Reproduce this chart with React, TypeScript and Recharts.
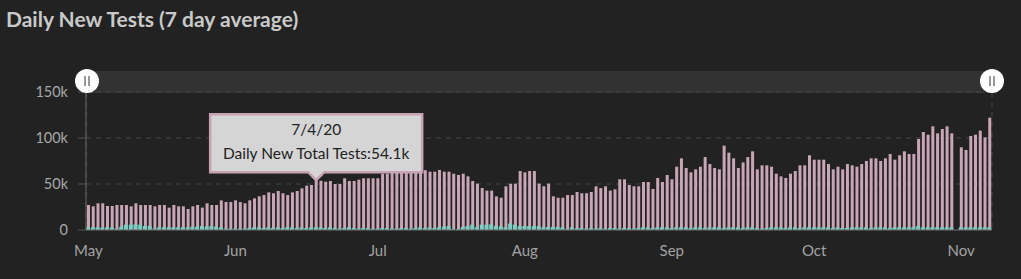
import React from "react";
import { BarChart, Bar, XAxis, YAxis, CartesianGrid } from "recharts";

// daily values in thousands, first day is 5/17/20
const firstDay = Date.UTC(2020, 4, 17);

const totalTestsK = [
  27.2, 25.7, 29, 29, 26.1, 26.1, 27.2, 27.2, 27.2, 25.7, 29, 27.2, 27.2, 27.2, 25.7, 27.2, 27.2, 24.3, 27.2, 25.7,
  25.7, 22.8, 25.7, 27.2, 24.3, 29, 27.2, 27.2, 32.2, 30.4, 30.4, 32.2, 30.4, 29, 32.2, 34.4, 36.6, 38, 40.9,
  39.9, 42.4, 39.9, 38.0, 40.9, 42.4, 45.3, 48.2, 48.9, 54.1, 53.5, 52.5, 53.3, 50, 50, 56.2, 53.3, 53.3, 54.7, 56.2,
  56.2, 56.2, 56.2, 61.2, 61.2, 63, 64, 65, 66, 66, 66, 65, 65, 63.4, 63.4, 65.2, 63.4, 63.4,
  61.2, 59.8, 61.2, 58.3, 53.3, 50.4, 45.6, 42.8, 42.8, 36.6, 35.1, 47.5, 50.4, 50.4, 64.1, 62.7, 64.1, 64.1, 50.4, 47.5,
  50.4, 36.6, 35.1, 35.1, 38, 38, 41.3, 39.9, 39.9, 41.3, 47.5, 45.6, 47.5, 42.8, 44.2, 55.1, 55.1, 48.9, 47.5, 47.5,
  52.2, 52.2, 44.6, 56.5, 52.2, 59.8, 55.1, 68.8, 77.9, 67.4, 62.7, 65.9, 68.8, 79.3, 71.7, 67.4, 65.9, 91.7, 84.1, 77.9,
  67.4, 73.5, 79.3, 85.5, 65.9, 70.3, 70.3, 68.8, 61.2, 58.3, 56.5, 61.2, 64.1, 70.3, 70.3, 81.2, 76.4, 76.4, 76.4,
  71.7, 65.9, 68.8, 65.9, 71.7, 70.3, 68.8, 71.7, 75, 77.9, 77.9, 75, 77.9, 82.6, 76.4, 81.2, 85.5, 82.6, 82.6, 98.9,
  106.5, 103.6, 112.7, 105.1, 109.8, 112.7, 105.1, null, 89.9, 87, 102.2, 103.6, 108, 100.7, 122.1,
];

const positiveTestsK = [
  2.9, 2.9, 2.9, 2.5, 2.9, 2.9, 1.5, 3.6, 5.8, 5.8, 6.2, 5.8, 4.3, 4.6, 1.5, 2.9, 2.9, 2.9, 2.9, 2.9,
  2.9, 2.9, 3.6, 3.6, 4.3, 3.6, 4.3, 3.6, 2.9, 1.5, 1.5, 1.5, 1.5, 1.5, 2.2, 2.9, 2.9, 2.2, 2.9,
  2.2, 2.9, 2.2, 2.9, 2.9, 2.2, 2.9, 2.2, 2.9, 2.9, 2.9, 2.2, 2.9, 2.2, 1.5, 2.2, 2.9, 2.2, 1.5, 2.2,
  2.2, 1.5, 1.5, 2.2, 2.2, 1.5, 1.5, 2.2, 2.2, 1.5, 2.2, 2.9, 2.2, 2.9, 2.2, 2.9, 3.6, 4.3,
  1.1, 1.1, 3.3, 4.3, 5.8, 2.9, 5.8, 5.8, 6.2, 4.3, 4.0, 2.9, 7.2, 5.8, 4.3, 4.3, 4.3, 4.3, 4.3, 2.9,
  3.3, 3.3, 3.3, 2.9, 1.1, 2.9, 1.8, 2.2, 1.5, 2.2, 1.5, 2.2, 1.5, 2.2, 2.2, 1.5, 2.2, 2.2, 1.5, 2.2,
  2.9, 2.9, 2.2, 2.9, 2.9, 2.9, 2.2, 2.9, 2.9, 2.9, 2.2, 2.9, 2.9, 2.2, 2.9, 2.9, 2.9, 2.2, 2.9, 2.9,
  2.9, 2.2, 2.9, 2.9, 2.2, 1.5, 2.2, 2.9, 2.9, 2.9, 2.2, 2.9, 2.9, 2.2, 2.9, 2.9, 2.9, 2.9, 2.9,
  2.9, 2.2, 2.9, 2.2, 2.2, 2.9, 2.9, 2.9, 2.9, 2.2, 2.9, 2.9, 2.9, 2.2, 2.9, 2.9, 2.9, 2.9, 2.9, 4.3,
  2.9, 2.9, 2.9, 2.9, 2.9, 2.9, 2.9, null, 2.9, 2.9, 2.9, 2.9, 2.9, 2.9, 2.9,
];

// grid lines sit on month starts, month names sit mid-month
const monthStartTicks = ["6/1/20", "7/1/20", "8/1/20", "9/1/20", "10/1/20", "11/1/20"];
const monthLabelTicks = ["5/17/20", "6/17/20", "7/17/20", "8/17/20", "9/17/20", "10/17/20", "11/17/20"];
const monthNames = ["May", "Jun", "Jul", "Aug", "Sep", "Oct", "Nov"];
const yTicks = [0, 50, 100, 150];

const tooltipDate = "7/4/20";
const tooltipSeries = "Daily New Total Tests";

const fmtDate = (t: number) => {
  const d = new Date(t);
  return `${d.getUTCMonth() + 1}/${d.getUTCDate()}/20`;
};

const rows = totalTestsK.map((total, i) => ({
  date: fmtDate(firstDay + i * 86400000),
  total,
  positive: positiveTestsK[i],
}));

const PINK = "#c9a6b5";
const TEAL = "#7ecdc3";

const renderTip = (props: any) => {
  const { x, y, width, index } = props;
  if (rows[index]?.date !== tooltipDate) return null;
  const cx = x + width / 2;
  const apex = y;
  const b = apex - 8;
  const t = b - 58;
  const l = cx - 106;
  const r = cx + 106;
  const d = `M${l},${t} H${r} V${b} H${cx + 8} L${cx},${apex} L${cx - 8},${b} H${l} Z`;
  return (
    <g>
      <path d={d} fill="#d5d5d5" stroke="#c9a3b3" strokeWidth={2.5} />
      <text x={cx} y={t + 21} textAnchor="middle" fontSize={15.5} fill="#222" fontFamily="Lato">
        {tooltipDate}
      </text>
      <text x={cx} y={t + 45} textAnchor="middle" fontSize={15.5} fill="#222" fontFamily="Lato">
        {`${tooltipSeries}:${rows[index].total}k`}
      </text>
    </g>
  );
};

const Handle = ({ left }: { left: number }) => (
  <div
    style={{
      position: "absolute",
      left: left - 12,
      top: 69,
      width: 24,
      height: 24,
      borderRadius: 12,
      background: "#fff",
    }}
  >
    <div style={{ position: "absolute", left: 9, top: 7, width: 1.5, height: 10, background: "#999" }} />
    <div style={{ position: "absolute", left: 13, top: 7, width: 1.5, height: 10, background: "#999" }} />
  </div>
);

export default function App() {
  return (
    <div style={{ position: "fixed", inset: 0, background: "#222", fontFamily: "Lato, sans-serif" }}>
      <div
        style={{
          position: "absolute",
          left: 6,
          top: 6,
          fontSize: 21,
          fontWeight: 700,
          color: "#c9c9c9",
          whiteSpace: "nowrap",
        }}
      >
        Daily New Tests (7 day average)
      </div>
      <div style={{ position: "absolute", left: 86, top: 71, width: 906, height: 22, background: "#323232" }} />
      <div style={{ position: "absolute", left: 0, top: 0 }}>
        <BarChart
          width={1021}
          height={279}
          data={rows}
          margin={{ top: 92, right: 29, bottom: 0, left: 0 }}
          barCategoryGap={0}
        >
          <CartesianGrid stroke="#474747" strokeDasharray="5 5" />
          <XAxis
            dataKey="date"
            ticks={monthStartTicks}
            interval={0}
            tick={false}
            height={8}
            tickSize={6}
            axisLine={{ stroke: "#666" }}
            tickLine={{ stroke: "#666" }}
          />
          <XAxis
            xAxisId="lbl"
            dataKey="date"
            ticks={monthLabelTicks}
            interval={0}
            height={41}
            tickSize={0}
            tickMargin={7}
            axisLine={false}
            tickLine={false}
            tickFormatter={(v) => monthNames[monthLabelTicks.indexOf(v)]}
            tick={{ fill: "#a3a3a3", fontSize: 15 }}
          />
          <YAxis
            domain={[0, 150]}
            ticks={yTicks}
            width={86}
            tickSize={8}
            tickMargin={10}
            axisLine={{ stroke: "#666" }}
            tickLine={{ stroke: "#555" }}
            tick={{ fill: "#a8a8a8", fontSize: 14.5 }}
            tickFormatter={(v) => (v === 0 ? "0" : `${v}k`)}
          />
          <Bar dataKey="total" fill={PINK} barSize={3} isAnimationActive={false} label={renderTip} />
          <Bar dataKey="positive" xAxisId="lbl" fill={TEAL} barSize={4} isAnimationActive={false} />
        </BarChart>
      </div>
      <Handle left={87} />
      <Handle left={992} />
    </div>
  );
}
